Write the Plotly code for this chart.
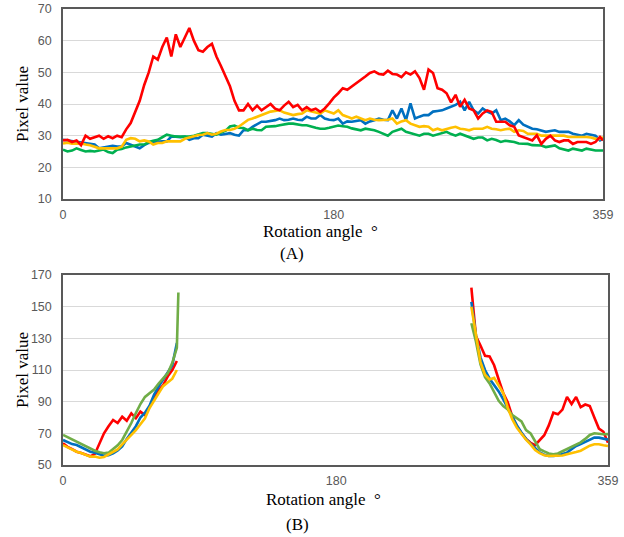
import plotly.graph_objects as go

W, H = 624, 537

# ---------------- Panel A data ----------------
angles_a = list(range(0, 360, 3)) + [359]

red_a = [28.5, 28.7, 28.0, 28.5, 27.0, 30.0, 29.0, 29.5, 30.0, 29.0, 29.8, 29.2, 30.0, 29.5,
         32.0, 34.0, 37.5, 41.0, 46.0, 50.0, 55.0, 54.0, 58.0, 61.0, 55.0, 62.0, 58.0, 61.0,
         64.0, 60.0, 57.0, 56.5, 58.0, 59.0, 55.0, 52.0, 49.0, 45.6, 41.0, 38.0, 38.0, 40.0,
         38.0, 39.5, 38.0, 39.0, 40.0, 38.5, 38.0, 39.5, 40.7, 39.0, 39.7, 38.0, 39.0, 38.0,
         38.5, 37.5, 38.6, 40.2, 42.0, 43.4, 45.0, 44.5, 45.5, 46.6, 47.5, 48.7, 49.8, 50.3,
         49.5, 49.3, 50.5, 49.5, 49.3, 48.5, 50.0, 49.3, 50.3, 48.2, 44.5, 50.9, 49.8, 45.0,
         44.5, 43.4, 40.5, 42.9, 39.1, 41.3, 38.6, 38.0, 35.4, 37.0, 38.0, 37.5, 34.4, 34.4,
         34.4, 33.3, 32.8, 30.1, 29.5, 29.0, 28.5, 30.1, 27.4, 29.0, 30.0, 28.5, 28.0, 28.5,
         28.5, 27.4, 28.0, 28.0, 28.0, 27.4, 28.0, 29.6, 28.5]

blue_a = [28.7, 28.5, 28.2, 28.2, 28.0, 27.7, 27.5, 27.2, 26.0, 26.3, 26.6, 26.8, 26.6, 26.6,
          27.7, 27.2, 26.6, 26.0, 27.0, 27.7, 28.0, 28.2, 28.2, 28.2, 29.7, 29.7, 29.5, 29.7,
          28.7, 29.2, 29.2, 30.3, 30.0, 29.7, 30.8, 30.3, 30.5, 30.8, 30.3, 30.0, 31.7, 31.7,
          32.8, 33.5, 34.4, 34.4, 34.6, 34.9, 35.4, 34.9, 35.0, 35.4, 35.0, 34.9, 36.0, 35.4,
          35.4, 36.5, 35.4, 35.0, 34.9, 35.4, 33.8, 34.5, 34.4, 34.6, 34.9, 33.8, 34.5, 34.9,
          35.4, 35.0, 34.9, 38.0, 35.4, 38.6, 34.9, 40.2, 35.4, 36.0, 36.5, 36.5, 37.6, 37.8,
          38.0, 38.6, 39.2, 39.7, 40.7, 38.0, 40.7, 38.0, 37.0, 38.6, 37.6, 37.0, 38.0, 34.9,
          35.4, 34.5, 33.3, 34.9, 33.5, 32.8, 32.2, 32.0, 31.7, 31.2, 31.5, 31.7, 31.2, 31.2,
          31.2, 30.6, 30.3, 30.0, 30.6, 30.2, 30.0, 28.5, 29.0]

yellow_a = [27.5, 27.8, 27.5, 27.5, 27.5, 27.2, 27.0, 26.5, 26.0, 26.0, 26.0, 26.0, 26.0, 26.5,
            28.7, 29.2, 29.0, 28.2, 28.5, 28.2, 27.2, 27.7, 27.7, 28.2, 28.2, 28.0, 28.2, 29.0,
            29.4, 29.7, 30.2, 30.3, 30.8, 30.3, 30.6, 31.3, 31.8, 31.8, 32.2, 32.9, 34.0, 35.0,
            35.4, 36.0, 36.5, 37.0, 37.6, 37.8, 38.0, 37.3, 36.8, 36.5, 36.8, 37.0, 38.0, 37.6,
            37.3, 37.0, 38.0, 37.5, 37.0, 38.0, 36.5, 36.0, 35.4, 36.0, 35.5, 34.9, 35.4, 35.0,
            34.9, 34.9, 35.0, 35.4, 33.8, 34.5, 34.9, 33.8, 33.3, 32.8, 33.0, 32.8, 31.7, 32.2,
            31.7, 32.2, 32.5, 32.8, 32.2, 32.0, 31.7, 32.2, 32.2, 32.2, 32.8, 32.2, 32.0, 31.7,
            32.0, 32.2, 31.2, 31.7, 31.5, 30.6, 30.6, 30.6, 30.0, 30.0, 30.2, 30.0, 30.0, 30.0,
            29.6, 29.6, 29.8, 29.6, 29.6, 29.4, 29.0, 29.0, 29.5]

green_a = [25.6, 25.0, 25.3, 26.0, 25.5, 25.0, 25.2, 25.0, 25.3, 25.6, 24.8, 24.5, 25.6, 25.8,
           26.3, 26.6, 27.0, 27.2, 27.2, 28.0, 28.4, 28.7, 29.5, 30.3, 30.0, 29.7, 29.7, 29.7,
           29.7, 30.0, 30.3, 30.8, 30.8, 30.6, 30.3, 31.0, 31.5, 32.9, 33.2, 32.5, 32.4, 31.7,
           32.2, 31.8, 31.7, 32.8, 32.8, 33.0, 33.3, 33.6, 33.8, 33.8, 33.5, 33.3, 33.3, 32.8,
           32.5, 32.2, 32.2, 32.5, 32.8, 33.2, 33.0, 32.8, 32.3, 32.0, 31.7, 32.2, 32.0, 31.7,
           31.2, 30.6, 30.0, 31.2, 31.8, 32.2, 31.2, 30.8, 30.6, 30.0, 30.6, 30.6, 30.0, 30.4,
           30.6, 31.2, 30.5, 30.0, 30.6, 30.0, 29.6, 29.0, 29.4, 29.4, 28.5, 29.0, 28.6, 28.0,
           28.4, 28.2, 28.0, 27.5, 27.4, 27.4, 27.0, 26.9, 26.9, 26.4, 26.6, 26.9, 26.0, 25.6,
           25.3, 25.9, 25.5, 25.3, 25.9, 25.5, 25.3, 25.3, 25.3]

# ---------------- Panel B data ----------------
# left part 0..75 (+76 for the final green spike), gap marker at 180, right part 269..359
angles_b = list(range(0, 76, 3)) + [76, 180] + list(range(269, 360, 3))

red_b = [63.7, 61.5, 60.0, 58.4, 57.6, 56.5, 55.5, 57.0, 64.0, 70.0, 74.5, 78.4, 76.5, 80.5,
         78.0, 82.6, 79.5, 83.7, 81.6, 86.5, 92.0, 97.4, 100.5, 106.0, 110.0, 115.7,
         None, None,
         162.0, 131.5, 125.5, 119.0, 118.6, 113.0, 104.0, 95.5, 89.5, 80.5, 74.5, 70.0, 66.5,
         64.0, 62.5, 66.0, 68.8, 75.0, 83.0, 82.0, 85.0, 93.0, 88.5, 93.0, 86.5, 88.2, 87.2,
         80.0, 73.0, 71.0, 64.0]

blue_b = [65.8, 64.3, 63.2, 62.6, 61.2, 59.8, 58.4, 57.7, 56.6, 55.9, 56.2, 57.3, 59.2, 61.8,
          66.5, 70.5, 74.5, 80.0, 83.0, 87.5, 94.5, 99.5, 103.8, 108.5, 113.0, 127.0,
          None, None,
          153.0, 132.0, 118.0, 110.0, 104.5, 100.5, 96.5, 91.4, 86.0, 80.0, 75.0, 70.5, 66.5,
          63.5, 60.5, 58.0, 56.5, 55.7, 55.7, 56.0, 57.0, 57.8, 60.0, 62.0, 63.2, 64.7, 66.2,
          67.3, 67.3, 66.6, 66.0]

green_b = [69.0, 67.5, 66.0, 64.7, 63.5, 62.0, 60.5, 59.0, 58.0, 57.4, 57.8, 60.3, 62.4, 65.8,
           71.0, 76.5, 82.8, 88.5, 93.0, 95.3, 97.6, 101.5, 105.0, 108.0, 114.5, 124.0,
           159.0, None,
           139.5, 128.0, 113.5, 105.5, 101.5, 95.8, 90.5, 87.2, 85.0, 81.5, 79.7, 77.5, 72.0,
           70.0, 65.0, 60.0, 58.6, 57.3, 56.8, 57.3, 58.7, 60.0, 61.5, 63.0, 64.3, 66.5, 69.0,
           70.0, 69.5, 69.4, 69.5]

yellow_b = [62.6, 61.2, 59.7, 58.4, 57.6, 56.4, 55.3, 55.3, 54.6, 55.1, 56.6, 58.2, 59.8, 63.0,
            66.0, 69.0, 72.0, 75.7, 79.5, 86.0, 91.0, 95.3, 99.8, 102.4, 104.5, 110.0,
            None, None,
            150.0, 131.0, 115.0, 107.0, 104.0, 105.0, 100.5, 95.5, 86.0, 78.8, 73.5, 69.5, 66.0,
            63.0, 59.5, 57.5, 56.2, 55.7, 55.7, 55.7, 56.0, 56.8, 57.3, 58.2, 59.0, 60.5, 62.2,
            63.1, 63.1, 62.5, 62.0]

x_ticks = [0, 180, 359]
x_tick_text = ["0", "180", "359"]
y_ticks_a = [10, 20, 30, 40, 50, 60, 70]
y_ticks_b = [50, 70, 90, 110, 130, 150, 170]

RED, BLUE, YELLOW = "#FF0000", "#0070C0", "#FFC000"
GREEN_A, GREEN_B = "#00B050", "#70AD47"

fig = go.Figure()
lw = 2.6
for vals, col in [(blue_a, BLUE), (green_a, GREEN_A), (yellow_a, YELLOW), (red_a, RED)]:
    fig.add_trace(go.Scatter(x=angles_a, y=vals, mode="lines", line=dict(color=col, width=lw),
                             xaxis="x", yaxis="y", showlegend=False, hoverinfo="skip"))
for vals, col in [(red_b, RED), (blue_b, BLUE), (green_b, GREEN_B), (yellow_b, YELLOW)]:
    fig.add_trace(go.Scatter(x=angles_b, y=vals, mode="lines", line=dict(color=col, width=lw),
                             xaxis="x2", yaxis="y2", showlegend=False, hoverinfo="skip",
                             connectgaps=False))

def px(x):
    return x / W

def py(y):
    return 1 - y / H

tick_font = dict(family="Liberation Sans", size=12.5, color="#595959")
axis_common = dict(showline=True, mirror=True, linecolor="#595959", linewidth=1.5,
                   ticks="", zeroline=False, tickfont=tick_font, automargin=False,
                   ticklabeloverflow="allow")

fig.update_layout(
    template="none",
    width=W, height=H,
    margin=dict(l=0, r=0, t=0, b=0, pad=0),
    paper_bgcolor="white", plot_bgcolor="white",
    xaxis=dict(domain=[px(63), px(603)], range=[0, 359], tickvals=x_ticks, ticktext=x_tick_text,
               showgrid=False, anchor="y", ticklabelstandoff=3, **axis_common),
    yaxis=dict(domain=[py(199), py(9)], range=[10, 70], tickvals=y_ticks_a, showgrid=True,
               gridcolor="#D9D9D9", gridwidth=1.2, anchor="x", ticklabelstandoff=7, **axis_common),
    xaxis2=dict(domain=[px(63), px(608)], range=[0, 359], tickvals=x_ticks, ticktext=x_tick_text,
                showgrid=False, anchor="y2", ticklabelstandoff=3, **axis_common),
    yaxis2=dict(domain=[py(465), py(275)], range=[50, 170], tickvals=y_ticks_b, showgrid=True,
                gridcolor="#D9D9D9", gridwidth=1.2, anchor="x2", ticklabelstandoff=7, **axis_common),
)

serif = dict(family="Liberation Serif", size=17, color="#000000")
ann = [
    dict(text="Pixel value", x=px(22), y=py(104), textangle=-90),
    dict(text="Pixel value", x=px(22), y=py(370), textangle=-90),
    dict(text="Rotation angle\u2002\u00b0", x=px(321), y=py(231)),
    dict(text="(A)", x=px(292), y=py(253)),
    dict(text="Rotation angle\u2002\u00b0", x=px(323), y=py(499)),
    dict(text="(B)", x=px(297), y=py(524)),
]
for a in ann:
    fig.add_annotation(xref="paper", yref="paper", showarrow=False, font=serif,
                       xanchor="center", yanchor="middle", **a)

fig.write_html(
    "out.html",
    config={"displayModeBar": False},
    post_script="document.body.style.margin='0';document.body.style.overflow='hidden';"
                "document.documentElement.style.overflow='hidden';",
)
